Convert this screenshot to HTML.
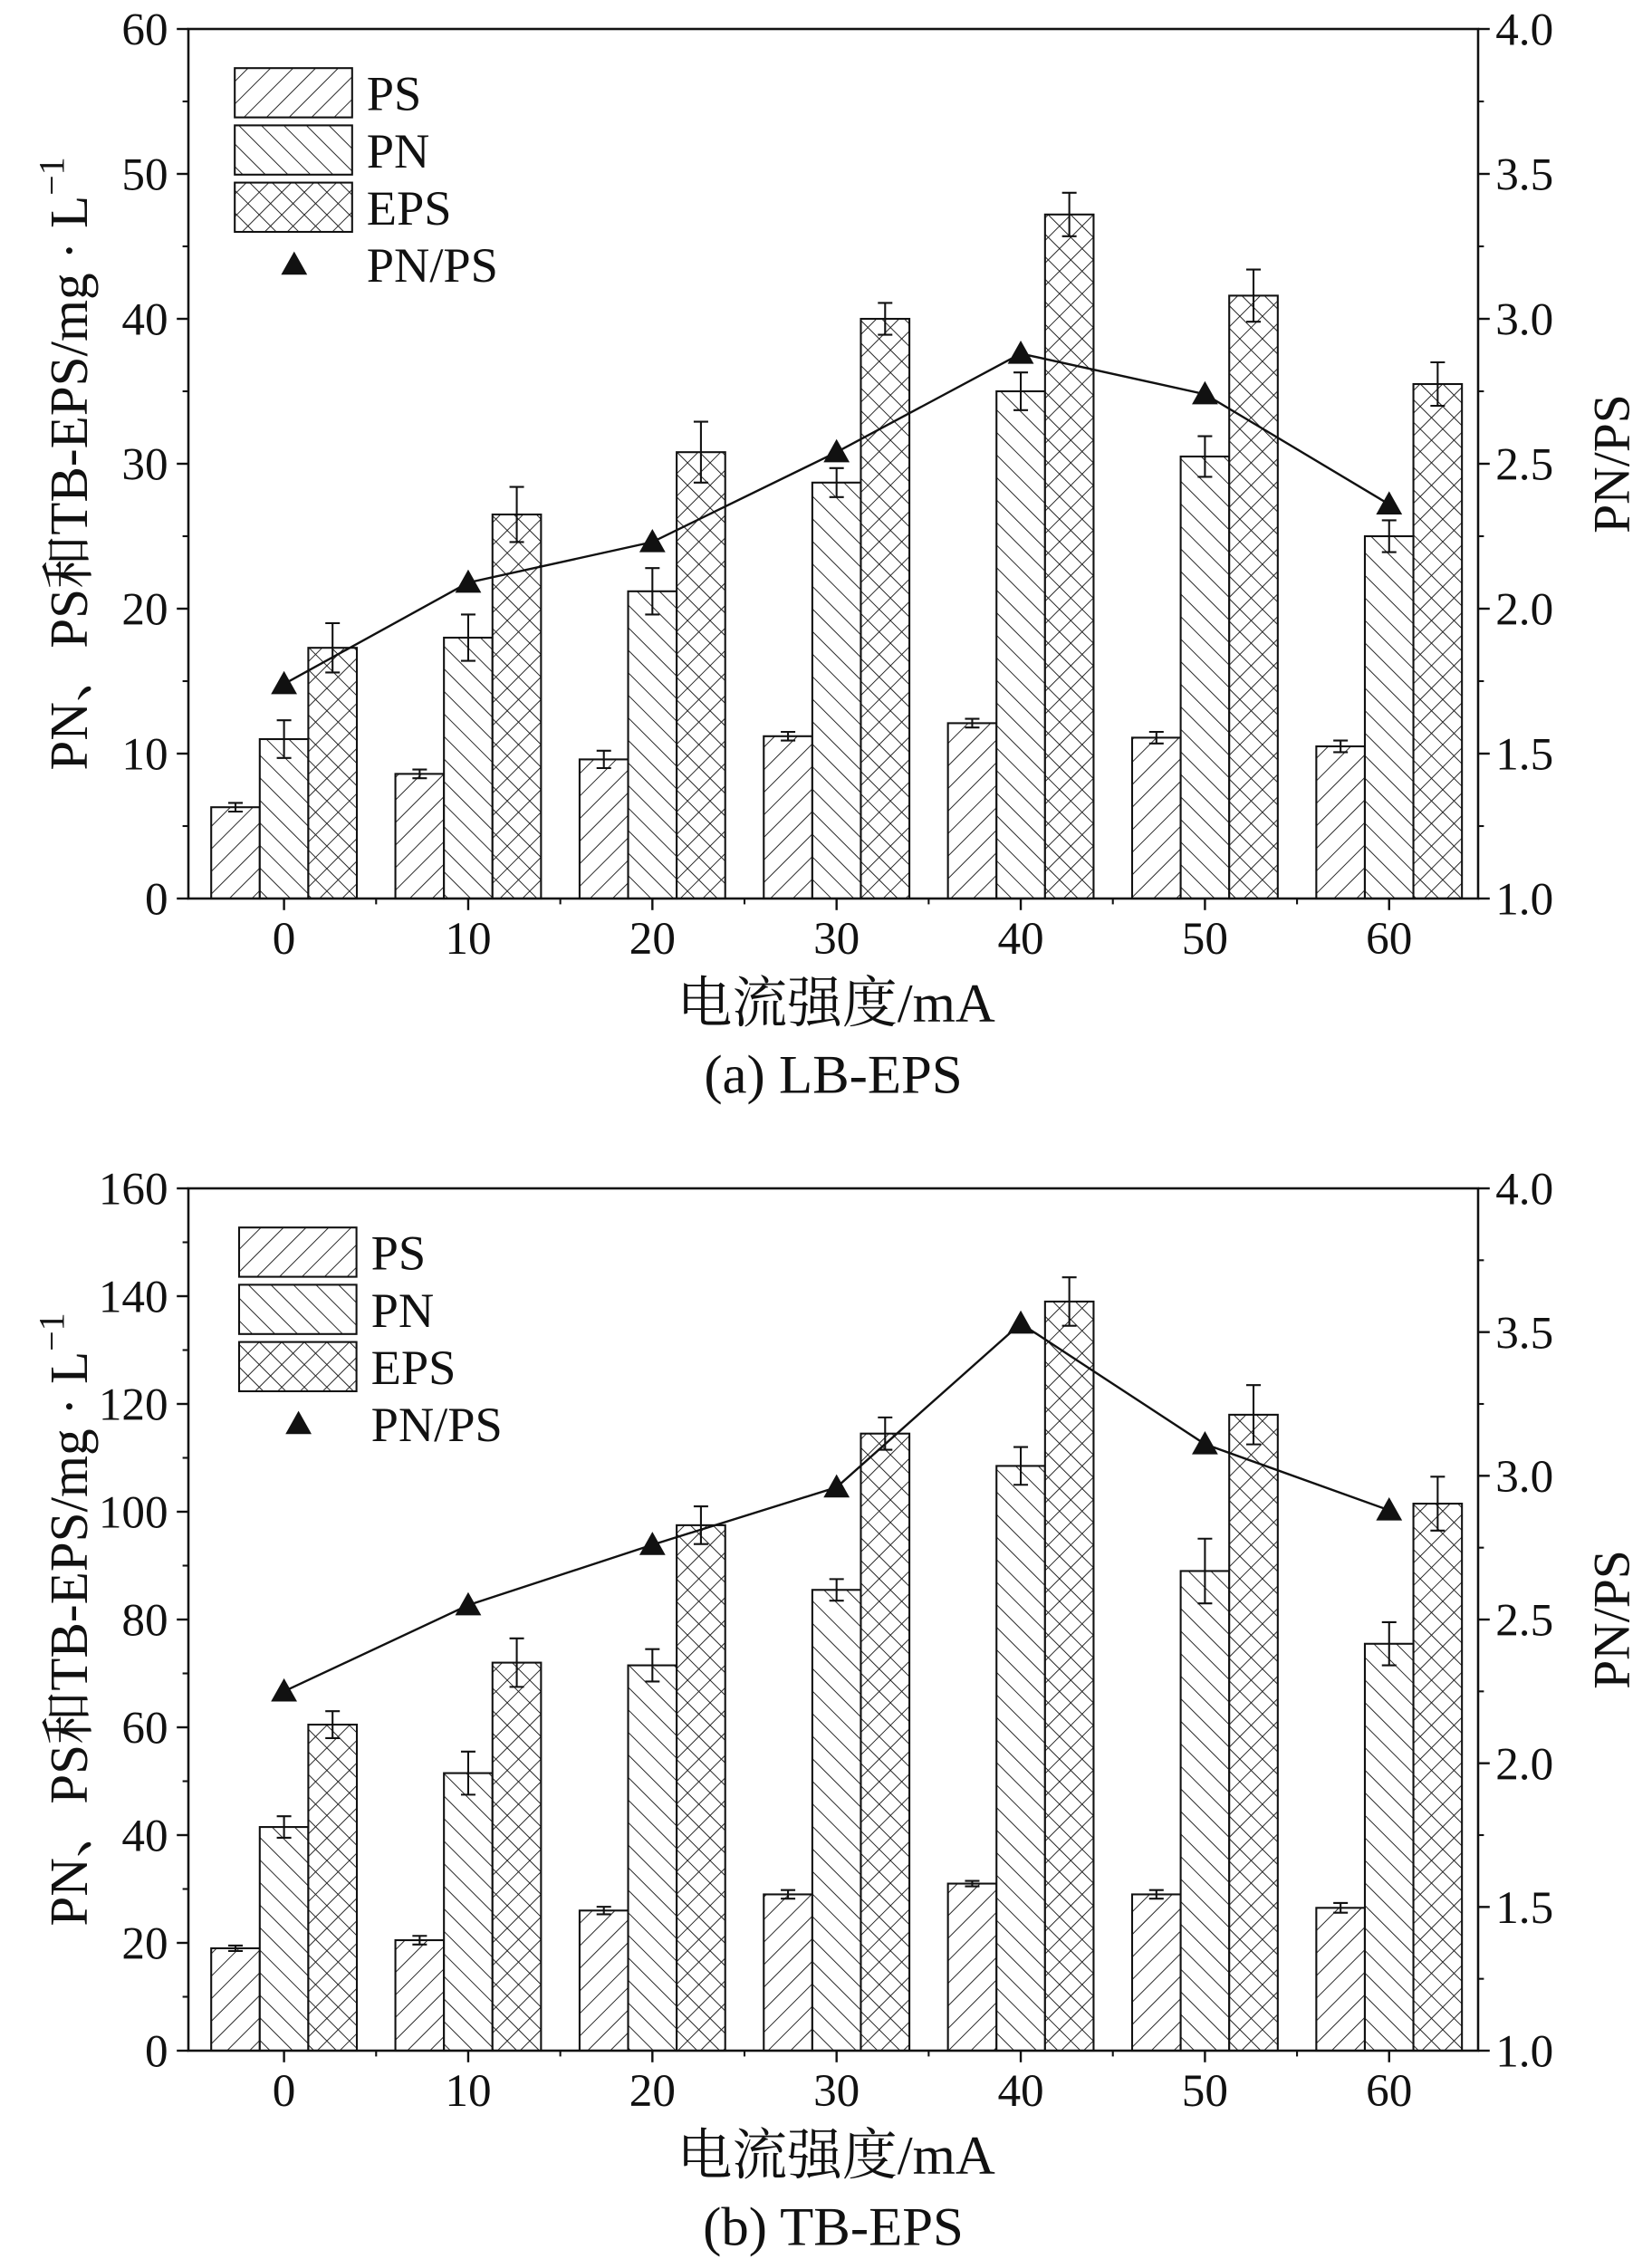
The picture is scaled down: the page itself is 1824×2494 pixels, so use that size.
<!DOCTYPE html>
<html><head><meta charset="utf-8"><style>
html,body{margin:0;padding:0;background:#fff}
svg{display:block}
text{font-family:"Liberation Serif","Noto Serif CJK SC",serif;fill:#111}
</style></head><body>
<svg id="fig" width="1824" height="2494" viewBox="0 0 1140 1558.75" xmlns="http://www.w3.org/2000/svg">
<defs>
<pattern id="hatchF" patternUnits="userSpaceOnUse" width="11" height="11" patternTransform="rotate(45)"><rect width="11" height="11" fill="#fff"/><line x1="0" y1="0" x2="0" y2="11" stroke="#222" stroke-width="1.2"/></pattern>
<pattern id="hatchB" patternUnits="userSpaceOnUse" width="11" height="11" patternTransform="rotate(-45)"><rect width="11" height="11" fill="#fff"/><line x1="0" y1="0" x2="0" y2="11" stroke="#222" stroke-width="1.2"/></pattern>
<pattern id="hatchX" patternUnits="userSpaceOnUse" width="11" height="11" patternTransform="rotate(45)"><rect width="11" height="11" fill="#fff"/><line x1="0" y1="0" x2="0" y2="11" stroke="#222" stroke-width="1.2"/><line x1="0" y1="0" x2="11" y2="0" stroke="#222" stroke-width="1.2"/></pattern>
</defs>
</svg>
<script>
const categories=[0,10,20,30,40,50,60];
const psA=[6.3,8.6,9.6,11.2,12.1,11.1,10.5];
const psAErr=[0.3,0.3,0.6,0.3,0.3,0.4,0.4];
const pnA=[11,18,21.2,28.7,35,30.5,25];
const pnAErr=[1.3,1.6,1.6,1,1.3,1.4,1.1];
const epsA=[17.3,26.5,30.8,40,47.2,41.6,35.5];
const epsAErr=[1.7,1.9,2.1,1.1,1.5,1.8,1.5];
const ratioA=[1.74,2.09,2.23,2.54,2.88,2.74,2.36];
const leftTicksA=[0,10,20,30,40,50,60];
const psB=[19,20.5,26,29,31,29,26.5];
const psBErr=[0.5,0.8,0.7,0.8,0.5,0.8,0.9];
const pnB=[41.5,51.5,71.5,85.5,108.5,89,75.5];
const pnBErr=[2,4,3,2,3.5,6,4];
const epsB=[60.5,72,97.5,114.5,139,118,101.5];
const epsBErr=[2.5,4.5,3.5,3,4.5,5.5,5];
const ratioB=[2.25,2.55,2.76,2.96,3.53,3.11,2.88];
const leftTicksB=[0,20,40,60,80,100,120,140,160];
const rightTicks=[1.0,1.5,2.0,2.5,3.0,3.5,4.0];

const svg=document.getElementById('fig');
const NS='http://www.w3.org/2000/svg';
function el(tag,attrs,parent){const e=document.createElementNS(NS,tag);for(const k in attrs)e.setAttribute(k,attrs[k]);(parent||svg).appendChild(e);return e;}

function panel(cfg){
  const g=el('g',{});
  
  
  const L=130,R=1020,T=cfg.top,B=cfg.bottom;
  const y=v=>B-(v/cfg.ymax)*(B-T);
  const yr=v=>B-((v-1)/3)*(B-T);
  const x=c=>196+(c/10)*127.1;
  const bw=33.5;
  const series=[[cfg.ps,cfg.psErr,'url(#hatchF)',-1,'ps'],[cfg.pn,cfg.pnErr,'url(#hatchB)',0,'pn'],[cfg.eps,cfg.epsErr,'url(#hatchX)',1,'eps']];
  series.forEach(s=>{
    categories.forEach((c,i)=>{
      const cx=x(c)+s[3]*bw;
      const r=el('rect',{x:cx-bw/2,y:y(s[0][i]),width:bw,height:B-y(s[0][i]),fill:s[2],stroke:'#111','stroke-width':1.3},g);
      
      
      const t=y(s[0][i]+s[1][i]),b=y(s[0][i]-s[1][i]);
      const e=el('path',{d:`M${cx},${t}V${b}M${cx-5},${t}H${cx+5}M${cx-5},${b}H${cx+5}`,stroke:'#111','stroke-width':1.3,fill:'none'},g);
      
      
    });
  });
  const line=el('polyline',{points:categories.map((c,i)=>x(c)+','+yr(cfg.ratio[i])).join(' '),fill:'none',stroke:'#111','stroke-width':1.5},g);
  
  
  categories.forEach((c,i)=>{
    const px=x(c),py=yr(cfg.ratio[i]);
    const tr=el('path',{d:`M${px},${py-9}L${px+9},${py+7}L${px-9},${py+7}Z`,fill:'#111'},g);
    
    
  });
  const frame=el('rect',{x:L,y:T,width:R-L,height:B-T,fill:'none',stroke:'#111','stroke-width':1.6},g);
  
  
  cfg.leftTicks.forEach((v,i)=>{
    el('line',{x1:L-8,x2:L,y1:y(v),y2:y(v),stroke:'#111','stroke-width':1.5},g);
    if(i<cfg.leftTicks.length-1){const m=y(v+(cfg.leftTicks[1]-cfg.leftTicks[0])/2);el('line',{x1:L-4,x2:L,y1:m,y2:m,stroke:'#111','stroke-width':1.3},g);}
    const t=el('text',{x:L-14,y:y(v)+11,'text-anchor':'end','font-size':32},g);t.textContent=v;
    
    
  });
  rightTicks.forEach((v,i)=>{
    el('line',{x1:R,x2:R+8,y1:yr(v),y2:yr(v),stroke:'#111','stroke-width':1.5},g);
    if(i<rightTicks.length-1){const m=yr(v+0.25);el('line',{x1:R,x2:R+4,y1:m,y2:m,stroke:'#111','stroke-width':1.3},g);}
    const t=el('text',{x:R+12,y:yr(v)+11,'font-size':32},g);t.textContent=v.toFixed(1);
    
    
  });
  categories.forEach((c,i)=>{
    el('line',{x1:x(c),x2:x(c),y1:B,y2:B+8,stroke:'#111','stroke-width':1.5},g);
    if(i<categories.length-1)el('line',{x1:x(c+5),x2:x(c+5),y1:B,y2:B+4,stroke:'#111','stroke-width':1.3},g);
    const t=el('text',{x:x(c),y:B+38,'text-anchor':'middle','font-size':32},g);t.textContent=c;
    
    
  });
  const yt=el('text',{transform:`translate(60,${(T+B)/2}) rotate(-90)`,'text-anchor':'middle','font-size':37},g);
  yt.innerHTML='PN、PS和TB-EPS/mg · L<tspan dy="-16" font-size="25">−1</tspan>';
  
  
  const y2=el('text',{transform:`translate(1124,${(T+B)/2}) rotate(-90)`,'text-anchor':'middle','font-size':36},g);
  y2.textContent='PN/PS';
  
  
  const xt=el('text',{x:577,y:B+85,'text-anchor':'middle','font-size':38},g);
  xt.textContent='电流强度/mA';
  
  
  const cap=el('text',{x:575,y:B+134,'text-anchor':'middle','font-size':38},g);
  cap.textContent=cfg.caption;
  
  
  const lx=cfg.lx,ly=cfg.ly;
  [['PS','url(#hatchF)'],['PN','url(#hatchB)'],['EPS','url(#hatchX)']].forEach((l,i)=>{
    const r=el('rect',{x:lx,y:ly+i*39.5,width:81,height:34,fill:l[1],stroke:'#111','stroke-width':1.3},g);
    
    
    const t=el('text',{x:lx+91,y:ly+i*39.5+29,'font-size':34},g);t.textContent=l[0];
    
    
  });
  const tx=lx+41,ty=ly+3*39.5+17;
  const tri=el('path',{d:`M${tx},${ty-9}L${tx+9},${ty+7}L${tx-9},${ty+7}Z`,fill:'#111'},g);
  
  
  const tt=el('text',{x:lx+91,y:ly+3*39.5+29,'font-size':34},g);tt.textContent='PN/PS';
  
  
}
panel({name:'chart-lb-eps',top:20,bottom:620,ymax:60,ps:psA,psErr:psAErr,pn:pnA,pnErr:pnAErr,eps:epsA,epsErr:epsAErr,ratio:ratioA,leftTicks:leftTicksA,caption:'(a) LB-EPS',lx:162,ly:47});
panel({name:'chart-tb-eps',top:820,bottom:1415,ymax:160,ps:psB,psErr:psBErr,pn:pnB,pnErr:pnBErr,eps:epsB,epsErr:epsBErr,ratio:ratioB,leftTicks:leftTicksB,caption:'(b) TB-EPS',lx:165,ly:847});
</script>
</body></html>
